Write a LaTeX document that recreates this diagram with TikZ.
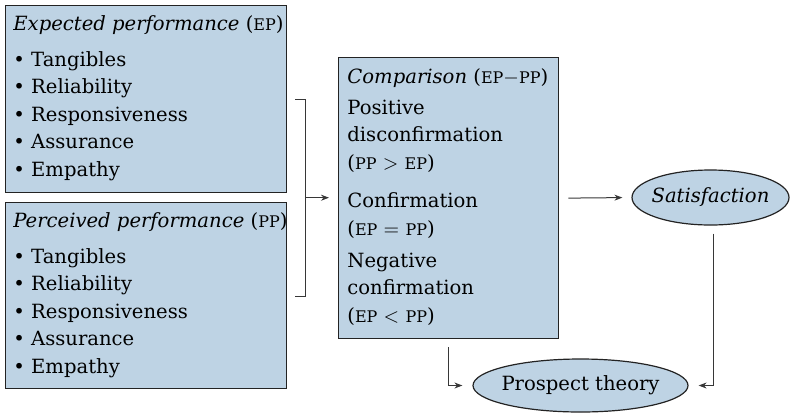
\documentclass[tikz,border=0pt]{standalone}
\usepackage{fontspec}
\setmainfont{DejaVu Serif}
\usepackage{tikz}
\usetikzlibrary{arrows.meta,calc,positioning,shapes.geometric}
\definecolor{panelfill}{RGB}{190,211,228}
\definecolor{paneledge}{RGB}{35,35,35}
\definecolor{linkgray}{RGB}{55,55,55}
\newcommand{\abbr}[1]{{\fontsize{8}{10}\selectfont\MakeUppercase{#1}}}
\newcommand{\itemdot}{\textbullet\ }
\tikzset{
  panel/.style={rectangle,draw=paneledge,fill=panelfill,line width=0.7pt,inner sep=0pt,anchor=north west},
  paneltext/.style={anchor=north west,align=left,inner sep=0pt,font=\fontsize{9.8}{13.75}\selectfont},
  outcome/.style={ellipse,draw=paneledge,fill=panelfill,line width=0.6pt,inner sep=0pt,font=\fontsize{9.8}{13.75}\selectfont},
  wire/.style={draw=linkgray,line width=0.5pt},
  link/.style={wire,-{Stealth[length=4pt,width=3pt]}}
}

\begin{document}
\begin{tikzpicture}[x=0.5pt,y=-0.5pt]
  \useasboundingbox (0,0) rectangle (790,413);
  \node[panel,minimum width=140.5pt,minimum height=93.5pt] (ep) at (5,5) {};
  \node[paneltext] (eptext) at ($(ep.north west)+(8,10)$) {%
    \textit{Expected performance} (\abbr{ep})\\[4.25pt]
    \itemdot Tangibles\\ \itemdot Reliability\\ \itemdot Responsiveness\\
    \itemdot Assurance\\ \itemdot Empathy};
  \node[panel,minimum width=140.5pt,minimum height=93pt] (pp) at (5,202) {};
  \node[paneltext] (pptext) at ($(pp.north west)+(8,10)$) {%
    \textit{Perceived performance} (\abbr{pp})\\[4.25pt]
    \itemdot Tangibles\\ \itemdot Reliability\\ \itemdot Responsiveness\\
    \itemdot Assurance\\ \itemdot Empathy};
  \node[panel,minimum width=110pt,minimum height=140.5pt] (cmp) at (338,57) {};
  \node[paneltext] (cmptext) at ($(cmp.north west)+(9,11)$) {%
    \textit{Comparison} (\abbr{ep}$-$\abbr{pp})\\[1.75pt]
    Positive\\ disconfirmation\\ (\abbr{pp} $>$ \abbr{ep})\\[5.5pt]
    Confirmation\\ (\abbr{ep} $=$ \abbr{pp})\\[2.25pt]
    Negative\\ confirmation\\ (\abbr{ep} $<$ \abbr{pp})};
  \node[outcome,minimum width=78.5pt,minimum height=27.5pt] (sat) at (710.5,197.5) {\makebox[0pt]{\textit{Satisfaction}}};
  \node[outcome,minimum width=107.5pt,minimum height=26.5pt] (pt) at (580.5,385.5) {\makebox[0pt]{Prospect theory}};

  \coordinate (brmid) at ($($(ep.south east)!0.5!(pp.north east)$)+(18,0)$);
  \coordinate (brtop) at ($(brmid)+(-10,-98)$);
  \coordinate (brbot) at ($(brmid)+(-10,99)$);
  \draw[wire] (brtop) -| (brmid) |- (brbot);
  \draw[link,shorten >=4.5pt] (brmid) -- (brmid -| cmp.west);
  \draw[link,shorten <=4.5pt,shorten >=4.5pt] (cmp.east) -- (sat.west);
  \draw[link,shorten <=4pt,shorten >=5pt] ([xshift=1.5pt]sat.south) |- (pt.east);
  \draw[link,shorten <=4pt,shorten >=5pt] (cmp.south) |- (pt.west);
\end{tikzpicture}
\end{document}
